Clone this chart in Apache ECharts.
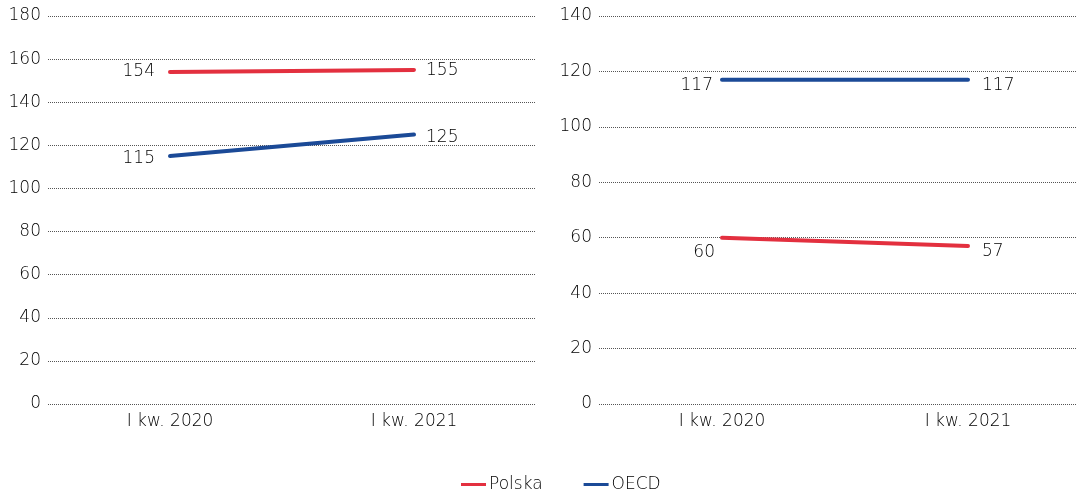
<!DOCTYPE html>
<html>
<head>
<meta charset="utf-8">
<script src="https://cdn.jsdelivr.net/npm/echarts@6/dist/echarts.min.js"></script>
<style>
  html, body { margin: 0; padding: 0; background: #fff; }
  #chart { width: 1077px; height: 493px; }
</style>
</head>
<body>
<div id="chart"></div>
<script>
// Quarter categories shared by both panels
const categories = ['I kw. 2020', 'I kw. 2021'];

// Left panel values
const polskaLeft = [154, 155];
const oecdLeft = [115, 125];

// Right panel values
const polskaRight = [60, 57];
const oecdRight = [117, 117];

// Y-axis ranges per panel
const leftAxis = { min: 0, max: 180, interval: 20 };
const rightAxis = { min: 0, max: 140, interval: 20 };

const RED = '#e3303f';
const BLUE = '#1b4a97';
const FONT = 'DejaVu Sans';
const WEIGHT = 200;
const SIZE = 17;
const TEXT = '#000';

// End labels: first point labelled on the left, last on the right.
// place[i] = [distance from the point, vertical nudge]
function withLabels(values, place) {
  return values.map((v, i) => ({
    value: v,
    label: {
      show: true,
      position: i === 0 ? 'left' : 'right',
      distance: place[i][0],
      offset: [0, place[i][1]],
      color: TEXT,
      fontSize: SIZE,
      fontFamily: FONT,
      fontWeight: WEIGHT
    }
  }));
}

function xAxis(gridIndex) {
  return {
    type: 'category',
    gridIndex,
    data: categories,
    boundaryGap: true,
    axisLine: { show: false },
    axisTick: { show: false },
    axisLabel: { color: TEXT, fontSize: SIZE, fontFamily: FONT, fontWeight: WEIGHT, margin: 9 }
  };
}

function yAxis(gridIndex, range) {
  return {
    type: 'value',
    gridIndex,
    min: range.min,
    max: range.max,
    interval: range.interval,
    axisLine: { show: false },
    axisTick: { show: false },
    axisLabel: { color: TEXT, fontSize: SIZE, fontFamily: FONT, fontWeight: WEIGHT, margin: 7 },
    splitLine: { lineStyle: { color: '#555', type: [1, 1], width: 1 } }
  };
}

function lineSeries(name, color, xi, values, place) {
  return {
    name,
    type: 'line',
    xAxisIndex: xi,
    yAxisIndex: xi,
    data: withLabels(values, place),
    symbol: 'circle',
    symbolSize: 0.1,
    showSymbol: true,
    lineStyle: { color, width: 4, cap: 'round' },
    itemStyle: { color },
    silent: true,
    animation: false
  };
}

const chart = echarts.init(document.getElementById('chart'));
chart.setOption({
  animation: false,
  textStyle: { fontFamily: FONT },
  grid: [
    { left: 48, top: 16, width: 488, height: 388, outerBoundsMode: 'none' },
    { left: 599, top: 16, width: 492, height: 388, outerBoundsMode: 'none' }
  ],
  legend: {
    left: 461,
    top: 476,
    padding: 0,
    icon: 'rect',
    itemWidth: 25,
    itemHeight: 3,
    itemGap: 41,
    textStyle: { color: TEXT, fontSize: SIZE, fontFamily: FONT, fontWeight: WEIGHT, padding: [0, 0, 0, -2] },
    data: ['Polska', 'OECD']
  },
  xAxis: [xAxis(0), xAxis(1)],
  yAxis: [yAxis(0, leftAxis), yAxis(1, rightAxis)],
  series: [
    lineSeries('Polska', RED, 0, polskaLeft, [[15, 0], [12, 1]]),
    lineSeries('OECD', BLUE, 0, oecdLeft, [[15, 2], [12, 3]]),
    lineSeries('Polska', RED, 1, polskaRight, [[7, 15], [14, 6]]),
    lineSeries('OECD', BLUE, 1, oecdRight, [[9, 6], [14, 6]])
  ]
});
</script>
</body>
</html>
